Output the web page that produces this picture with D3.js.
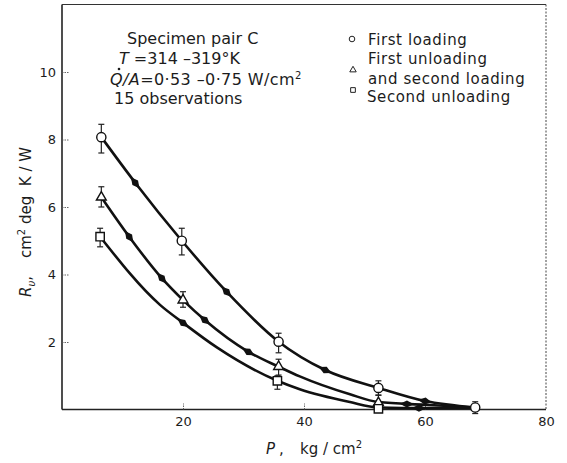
<!DOCTYPE html>
<html>
<head>
<meta charset="utf-8">
<script src="https://cdn.jsdelivr.net/npm/d3@7"></script>
<style>
  html, body { margin: 0; padding: 0; background: #fff; }
  svg { display: block; }
  text { font-family: "DejaVu Sans", "Liberation Sans", sans-serif; fill: #1c1c1c; white-space: pre; }
</style>
</head>
<body>
<svg id="chart" width="567" height="463"></svg>
<script>
// Thermal contact resistance R_v against contact pressure P, specimen pair C

// Measured points: first loading (circles)
const firstP  = [6.5, 19.8, 35.8, 52.3, 68.3];
const firstR  = [8.07, 5.0, 2.01, 0.64, 0.06];
const firstLo = [7.6, 4.58, 1.68, 0.42, -0.12];
const firstHi = [8.45, 5.37, 2.26, 0.85, 0.23];

// First unloading and second loading (triangles)
const unloadP  = [6.5, 20, 35.8, 52.3];
const unloadR  = [6.29, 3.24, 1.27, 0.2];
const unloadLo = [6.0, 3.03, 1.02, 0.05];
const unloadHi = [6.6, 3.49, 1.49, 0.43];

// Second unloading (squares)
const secondP  = [6.3, 35.6, 52.3];
const secondR  = [5.12, 0.85, 0.02];
const secondLo = [4.82, 0.6, -0.06];
const secondHi = [5.37, 1.0, 0.1];

// Faired curves through each set
const curveFirstP  = [6.5, 12.1, 19.8, 27.2, 35.8, 43.5, 52.3, 60, 68.3];
const curveFirstR  = [8.07, 6.72, 5.0, 3.49, 2.01, 1.17, 0.64, 0.25, 0.06];
const curveUnloadP = [6.5, 11.1, 16.5, 20, 23.6, 30.8, 35.8, 39.3, 47.6, 52.3, 60, 68.3];
const curveUnloadR = [6.29, 5.12, 3.89, 3.24, 2.65, 1.71, 1.27, 0.98, 0.45, 0.22, 0.14, 0.06];
const curveSecondP = [6.3, 16.2, 20, 25.6, 35.6, 39.3, 47.6, 52.3, 60, 68.3];
const curveSecondR = [5.12, 3.1, 2.57, 1.84, 0.85, 0.6, 0.22, 0.06, 0.04, 0.05];

// Direction markers along the curves (pressure at which each sits)
const arrowFirstP  = [12.1, 27.2, 43.5, 60];
const arrowUnloadP = [11.1, 16.5, 23.6, 30.8, 57];
const arrowSecondP = [20, 59];

// Axis ticks
const xTicks = [20, 40, 60, 80];
const yTicks = [2, 4, 6, 8, 10];

const svg = d3.select("#chart");
const x = d3.scaleLinear().domain([0, 80]).range([62, 546]);
const y = d3.scaleLinear().domain([0, 12]).range([409.5, 4.5]);

// Frame
const frame = svg.append("g");
frame.append("line").attr("x1", x(0)).attr("x2", x(0)).attr("y1", y(12)).attr("y2", y(0))
  .attr("stroke", "#222").attr("stroke-width", 1.6);
frame.append("line").attr("x1", x(0)).attr("x2", x(80)).attr("y1", y(0)).attr("y2", y(0))
  .attr("stroke", "#222").attr("stroke-width", 1.6);
frame.append("line").attr("x1", x(0)).attr("x2", x(80)).attr("y1", y(12)).attr("y2", y(12))
  .attr("stroke", "#333").attr("stroke-width", 1.1);
frame.append("line").attr("x1", x(80)).attr("x2", x(80)).attr("y1", y(12)).attr("y2", y(0))
  .attr("stroke", "#444").attr("stroke-width", 1).attr("stroke-dasharray", "2,1.5");

// Axes with inward ticks
const xAxis = svg.append("g").attr("transform", `translate(0,${y(0)})`)
  .call(d3.axisBottom(x).tickValues(xTicks).tickSizeInner(-6).tickSizeOuter(0).tickPadding(7));
const yAxis = svg.append("g").attr("transform", `translate(${x(0)},0)`)
  .call(d3.axisLeft(y).tickValues(yTicks).tickSizeInner(-7).tickSizeOuter(0).tickPadding(6));
[xAxis, yAxis].forEach(g => {
  g.select(".domain").remove();
  g.selectAll(".tick line").attr("stroke", "#555").attr("stroke-width", 0.9).attr("stroke-dasharray", "1.5,1");
  g.selectAll(".tick text").style("font-family", "'DejaVu Sans', sans-serif")
    .style("font-size", "13px").attr("fill", "#333");
});
xAxis.selectAll(".tick").filter(d => d === 80).select("line").remove();

// Curves
const line = d3.line().x(d => x(d[0])).y(d => y(d[1])).curve(d3.curveMonotoneX);
const curves = [
  { P: curveFirstP, R: curveFirstR, arrows: arrowFirstP },
  { P: curveUnloadP, R: curveUnloadR, arrows: arrowUnloadP },
  { P: curveSecondP, R: curveSecondR, arrows: arrowSecondP }
];
const curveG = svg.append("g");
curves.forEach(c => {
  const path = curveG.append("path")
    .attr("d", line(c.P.map((p, i) => [p, c.R[i]])))
    .attr("fill", "none").attr("stroke", "#111").attr("stroke-width", 2.6)
    .attr("stroke-linejoin", "round").attr("stroke-linecap", "round");
  const node = path.node();
  const total = node.getTotalLength();
  const lengthAtX = px => {
    let lo = 0, hi = total;
    for (let k = 0; k < 40; k++) {
      const mid = (lo + hi) / 2;
      if (node.getPointAtLength(mid).x < px) lo = mid; else hi = mid;
    }
    return (lo + hi) / 2;
  };
  c.arrows.forEach(p => {
    const L = lengthAtX(x(p));
    const a = node.getPointAtLength(Math.max(0, L - 1.5));
    const b = node.getPointAtLength(Math.min(total, L + 1.5));
    const m = node.getPointAtLength(L);
    const ang = Math.atan2(b.y - a.y, b.x - a.x) * 180 / Math.PI;
    curveG.append("path")
      .attr("d", "M-7,0 L0,-3.6 L7,0 L0,3.6 Z")
      .attr("transform", `translate(${m.x},${m.y}) rotate(${ang})`)
      .attr("fill", "#111");
  });
});

// Error bars
function errorBars(P, lo, hi) {
  const g = svg.append("g").attr("stroke", "#222").attr("stroke-width", 1.2);
  P.forEach((p, i) => {
    g.append("line").attr("x1", x(p)).attr("x2", x(p)).attr("y1", y(lo[i])).attr("y2", y(hi[i]));
    [lo[i], hi[i]].forEach(v => g.append("line")
      .attr("x1", x(p) - 3).attr("x2", x(p) + 3).attr("y1", y(v)).attr("y2", y(v)));
  });
}
errorBars(firstP, firstLo, firstHi);
errorBars(unloadP, unloadLo, unloadHi);
errorBars(secondP, secondLo, secondHi);

// Markers
const markG = svg.append("g").attr("fill", "#fff").attr("stroke", "#111").attr("stroke-width", 1.4);
markG.selectAll("circle.m").data(firstP).join("circle")
  .attr("cx", (d) => x(d)).attr("cy", (d, i) => y(firstR[i])).attr("r", 4.6);
const tri = d3.symbol().type(d3.symbolTriangle).size(42);
markG.selectAll("path.t").data(unloadP).join("path")
  .attr("d", tri).attr("transform", (d, i) => `translate(${x(d)},${y(unloadR[i])})`);
const sq = d3.symbol().type(d3.symbolSquare).size(70);
markG.selectAll("path.s").data(secondP).join("path")
  .attr("d", sq).attr("transform", (d, i) => `translate(${x(d)},${y(secondR[i])})`);

// Annotation block
const note = svg.append("g").style("font-size", "16px");
note.append("text").attr("x", 127).attr("y", 44).text("Specimen pair C");
const t2 = note.append("text").attr("x", 119).attr("y", 64);
t2.append("tspan").attr("font-style", "italic").text("T");
t2.append("tspan").text(" =314 –319°K");
const t3 = note.append("text").attr("x", 110).attr("y", 85).style("letter-spacing", "0.4px");
t3.append("tspan").attr("font-style", "italic").text("Q/A");
t3.append("tspan").text("=0·53 –0·75 W/cm");
t3.append("tspan").attr("dy", -6).style("font-size", "10px").text("2");
note.append("circle").attr("cx", 119).attr("cy", 69).attr("r", 1.3).attr("fill", "#1c1c1c");
note.append("text").attr("x", 114).attr("y", 104).text("15 observations");

// Legend
const leg = svg.append("g").style("font-size", "15px").style("letter-spacing", "0.6px");
leg.append("circle").attr("cx", 352).attr("cy", 39).attr("r", 2.8)
  .attr("fill", "#fff").attr("stroke", "#222").attr("stroke-width", 1);
leg.append("text").attr("x", 368).attr("y", 45).text("First loading");
leg.append("path").attr("d", d3.symbol().type(d3.symbolTriangle).size(18))
  .attr("transform", "translate(353,70)").attr("fill", "#fff").attr("stroke", "#222").attr("stroke-width", 1);
leg.append("text").attr("x", 368).attr("y", 64).text("First unloading");
leg.append("text").attr("x", 368).attr("y", 84).text("and second loading");
leg.append("path").attr("d", d3.symbol().type(d3.symbolSquare).size(22))
  .attr("transform", "translate(353,90)").attr("fill", "#fff").attr("stroke", "#222").attr("stroke-width", 1);
leg.append("text").attr("x", 367).attr("y", 102).text("Second unloading");

// Axis titles
const xTitle = svg.append("g").style("font-size", "15px");
xTitle.append("text").attr("x", 266).attr("y", 454)
  .append("tspan").attr("font-style", "italic").text("P");
xTitle.append("text").attr("x", 279).attr("y", 454).text(",");
const xu = xTitle.append("text").attr("x", 300).attr("y", 454);
xu.append("tspan").text("kg / cm");
xu.append("tspan").attr("dy", -6).style("font-size", "10px").text("2");

const yTitle = svg.append("g").attr("transform", "translate(31,0) rotate(-90)").style("font-size", "15px");
const yr = yTitle.append("text").attr("x", -297).attr("y", 0);
yr.append("tspan").attr("font-style", "italic").text("R");
yr.append("tspan").attr("dy", 4).style("font-size", "10px").attr("font-style", "italic").text("υ");
yr.append("tspan").attr("dy", -4).text(",");
const yu = yTitle.append("text").attr("x", -258).attr("y", 0);
yu.append("tspan").text("cm");
yu.append("tspan").attr("dy", -6).style("font-size", "10px").text("2");
yu.append("tspan").attr("dy", 6).text(" deg  K / W");
</script>
</body>
</html>
